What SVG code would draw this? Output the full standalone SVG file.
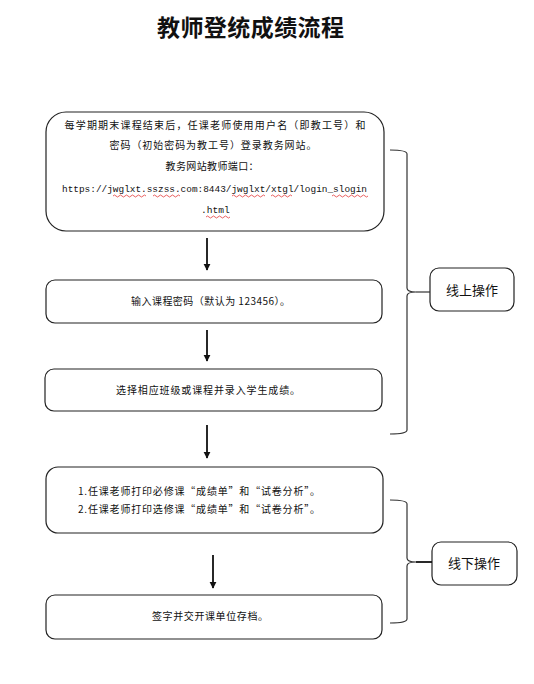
<svg xmlns="http://www.w3.org/2000/svg" width="534" height="684" viewBox="0 0 534 684">
<defs>
<style>
.box{fill:#fff;stroke:#222;stroke-width:1.2}
.t{font-family:"Noto Sans CJK SC","Liberation Sans",sans-serif;font-size:10px;fill:#111}
.c{text-anchor:middle}
.lab{font-family:"Noto Sans CJK SC","Liberation Sans",sans-serif;font-size:13px;fill:#111;text-anchor:middle}
.mono{font-family:"Liberation Mono","Noto Sans CJK SC",monospace;font-size:9.6px;fill:#111}
.ln{stroke:#111;stroke-width:1.8;fill:none}
.br{stroke:#333;stroke-width:1.2;fill:none}
.sq{stroke:#e02020;stroke-width:0.7;fill:none}
</style>
<marker id="ah" viewBox="0 0 10 10" refX="9" refY="5" markerWidth="4" markerHeight="4" orient="auto">
<path d="M0,0 L10,5 L0,10 z" fill="#111"/>
</marker>
</defs>
<rect width="534" height="684" fill="#fff"/>
<text x="250.5" y="36" text-anchor="middle" textLength="187" style="font-family:'Noto Sans CJK SC',sans-serif;font-size:23px;font-weight:bold;fill:#111">教师登统成绩流程</text>

<g id="node1">
<rect class="box" x="46" y="112" width="338" height="119" rx="20"/>
<text class="t c" x="215" y="129" textLength="301">每学期期末课程结束后，任课老师使用用户名（即教工号）和</text>
<text class="t c" x="213" y="149" textLength="207">密码（初始密码为教工号）登录教务网站。</text>
<text class="t c" x="212" y="170" textLength="93">教务网站教师端口：</text>
<text class="mono" x="62" y="192" textLength="305" lengthAdjust="spacingAndGlyphs">https://jwglxt.sszss.com:8443/jwglxt/xtgl/login_slogin</text>
<text class="mono" x="201" y="213">.html</text>
<path class="sq" d="M113,196 q1.5,-2 3,0 t3,0 t3,0 t3,0 t3,0 t3,0 t3,0 t3,0 t3,0 t3,0 t3,0"/>
<path class="sq" d="M153,196 q1.5,-2 3,0 t3,0 t3,0 t3,0 t3,0 t3,0 t3,0 t3,0 t3,0"/>
<path class="sq" d="M232,196 q1.5,-2 3,0 t3,0 t3,0 t3,0 t3,0 t3,0 t3,0 t3,0 t3,0 t3,0 t3,0"/>
<path class="sq" d="M271,196 q1.5,-2 3,0 t3,0 t3,0 t3,0 t3,0 t3,0 t3,0"/>
<path class="sq" d="M332,196 q1.5,-2 3,0 t3,0 t3,0 t3,0 t3,0 t3,0 t3,0 t3,0 t3,0 t3,0 t3,0 t3,0"/>
<path class="sq" d="M206,217 q1.5,-2 3,0 t3,0 t3,0 t3,0 t3,0 t3,0 t3,0 t3,0"/>
</g>

<g id="node2">
<rect class="box" x="46" y="280" width="336" height="43" rx="9"/>
<text class="t c" x="210.5" y="305" textLength="159">输入课程密码（默认为 123456）。</text>
</g>

<g id="node3">
<rect class="box" x="45" y="369" width="337" height="42" rx="9"/>
<text class="t c" x="208" y="394" textLength="184">选择相应班级或课程并录入学生成绩。</text>
</g>

<g id="node4">
<rect class="box" x="46" y="467" width="337" height="66" rx="12"/>
<text class="t" x="78" y="495" textLength="242">1.任课老师打印必修课“成绩单”和“试卷分析”。</text>
<text class="t" x="78" y="513" textLength="242">2.任课老师打印选修课“成绩单”和“试卷分析”。</text>
</g>

<g id="node5">
<rect class="box" x="46" y="595" width="336" height="44" rx="9"/>
<text class="t c" x="210" y="620" textLength="116">签字并交开课单位存档。</text>
</g>

<g id="label-online">
<rect class="box" x="430" y="268" width="84" height="43" rx="9"/>
<text class="lab" x="472" y="295">线上操作</text>
</g>

<g id="label-offline">
<rect class="box" x="432" y="542" width="85" height="43" rx="9"/>
<text class="lab" x="474" y="568">线下操作</text>
</g>

<g id="connectors">
<line class="ln" x1="207" y1="238" x2="207" y2="270" marker-end="url(#ah)"/>
<line class="ln" x1="207" y1="330" x2="207" y2="361" marker-end="url(#ah)"/>
<line class="ln" x1="207" y1="425" x2="207" y2="458" marker-end="url(#ah)"/>
<line class="ln" x1="213" y1="555" x2="213" y2="588" marker-end="url(#ah)"/>
<path class="br" d="M390,150 Q407,150 407,154 L407,288 Q407,292 416,292 Q407,292 407,296 L407,430 Q407,434 390,434"/>
<line class="br" x1="416" y1="292" x2="430" y2="292"/>
<path class="br" d="M390,500 Q407,500 407,504 L407,558 Q407,562 416,562 Q407,562 407,566 L407,619 Q407,623 390,623"/>
<line class="ln" x1="416" y1="562" x2="432" y2="562"/>
</g>
</svg>
